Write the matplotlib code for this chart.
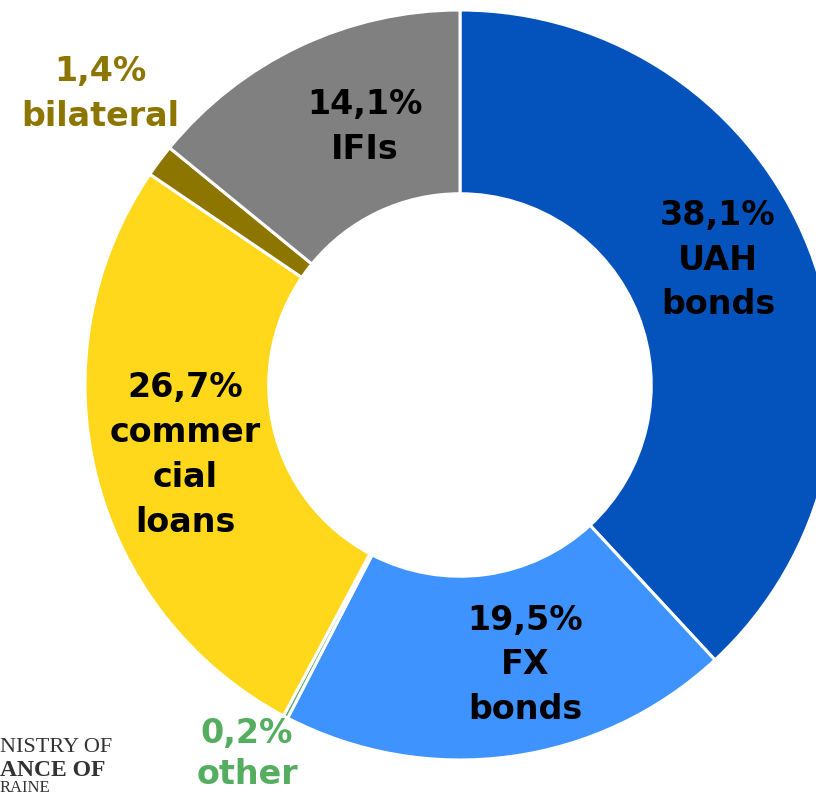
import matplotlib.pyplot as plt

# debt structure shares, %
labels = ['UAH\nbonds', 'FX\nbonds', 'other', 'commer\ncial\nloans', 'bilateral', 'IFIs']
shares = [38.1, 19.5, 0.2, 26.7, 1.4, 14.1]
colors = ['#0453BC', '#3F93FF', '#55AD5F', '#FFD71B', '#8D7600', '#808080']
label_colors = ['black', 'black', '#55AD5F', 'black', '#8D7600', 'black']
# label anchor points in pixel space (x, y from top)
label_pos = [(718, 260), (525, 665), (247, 754), (185, 455), (100, 94), (365, 127)]

W, H = 816, 796
fig = plt.figure(figsize=(W / 100, H / 100), dpi=100)
ax = fig.add_axes([0, 0, 1, 1])

cx, cy, R = 460, 385, 375
ax.pie(shares, colors=colors, startangle=90, counterclock=False,
       center=(cx, -cy), radius=R,
       wedgeprops=dict(width=R * 0.49, edgecolor='white', linewidth=2.2))

for lab, val, col, (x, y) in zip(labels, shares, label_colors, label_pos):
    txt = f"{val:.1f}%".replace('.', ',') + '\n' + lab
    ls = 1.3 if lab == 'other' else 1.45
    ax.text(x, -y, txt, ha='center', va='center', fontsize=24,
            fontweight='bold', color=col, linespacing=ls,
            family='DejaVu Sans')

# visible part of the logo text in the corner
ax.text(0, -752, 'NISTRY OF', ha='left', va='baseline', fontsize=16,
        family='Liberation Serif', color='#333333')
ax.text(0, -776, 'ANCE OF', ha='left', va='baseline', fontsize=17,
        family='Liberation Serif', fontweight='bold', color='#333333')
ax.text(0, -792, 'RAINE', ha='left', va='baseline', fontsize=12,
        family='Liberation Serif', color='#333333')

ax.set_xlim(0, W)
ax.set_ylim(-H, 0)
ax.set_aspect('equal')
ax.axis('off')

fig.savefig('out.png', dpi=100, facecolor='white')
